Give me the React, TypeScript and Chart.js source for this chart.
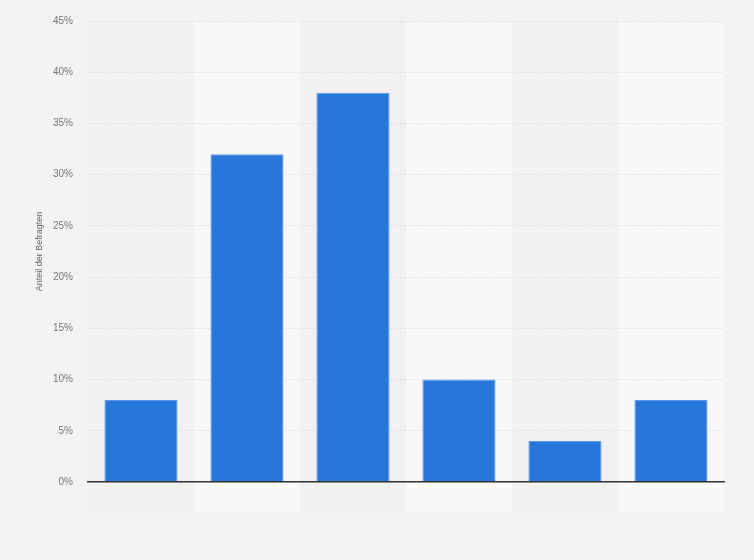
import { useEffect, useRef } from "react"
import { Chart, registerables, type ChartConfiguration, type Plugin } from "chart.js"

Chart.register(...registerables)

// Data (share of respondents, %)
const categories = ["1", "2", "3", "4", "5", "6"]
const shares = [8, 32, 38, 10, 4, 8]
const yTicks = [0, 5, 10, 15, 20, 25, 30, 35, 40, 45]

const FONT = "'Liberation Sans', Arial, sans-serif"

// Alternating column bands behind grid and bars
const bandPlugin: Plugin<"bar"> = {
  id: "bands",
  beforeDraw(chart) {
    const { ctx, chartArea, scales } = chart
    const x = scales.x
    const n = categories.length
    const step = chartArea.width / n
    ctx.save()
    for (let i = 0; i < n; i++) {
      const cx = x.getPixelForValue(i)
      ctx.fillStyle = i % 2 === 0 ? "#f1f1f1" : "#f8f8f8"
      ctx.fillRect(cx - step / 2, chartArea.top, step, chartArea.bottom - chartArea.top + 31)
    }
    ctx.restore()
  },
}

export default function App() {
  const canvasRef = useRef<HTMLCanvasElement>(null)
  const chartRef = useRef<Chart | null>(null)

  useEffect(() => {
    if (!canvasRef.current) return
    if (chartRef.current) chartRef.current.destroy()

    const config: ChartConfiguration<"bar"> = {
      type: "bar",
      data: {
        labels: categories,
        datasets: [
          {
            label: "Anteil der Befragten",
            data: shares,
            backgroundColor: "#2776d9",
            borderColor: "#5c9ae8",
            borderWidth: 1,
            borderSkipped: "bottom",
            barPercentage: 0.69,
            categoryPercentage: 1,
          },
        ],
      },
      options: {
        responsive: true,
        maintainAspectRatio: false,
        animation: false,
        layout: { padding: { top: 20, right: 30, bottom: 78, left: 0 } },
        plugins: {
          legend: { display: false },
          tooltip: { enabled: false },
        },
        scales: {
          x: {
            ticks: { display: false },
            grid: { display: true, color: "rgba(0,0,0,0)", drawTicks: false },
            border: { display: true, color: "#333333", width: 1.5, z: 1 },
          },
          y: {
            min: 0,
            max: 45,
            afterBuildTicks: (scale) => {
              scale.ticks = yTicks.map((v) => ({ value: v }))
            },
            afterFit: (scale) => {
              scale.width = 88
            },
            ticks: {
              padding: 15,
              color: "#777777",
              font: { family: FONT, size: 10 },
              callback: (v) => `${v}%`,
            },
            grid: {
              color: "#d0d0d0",
              drawTicks: false,
              lineWidth: 1,
            },
            border: { display: false, dash: [1, 2] },
            title: {
              display: true,
              text: "Anteil der Befragten",
              color: "#666666",
              font: { family: FONT, size: 9 },
              padding: { top: 34, bottom: 0 },
            },
          },
        },
      },
      plugins: [bandPlugin],
    }

    chartRef.current = new Chart(canvasRef.current, config)

    return () => {
      if (chartRef.current) {
        chartRef.current.destroy()
        chartRef.current = null
      }
    }
  }, [])

  return (
    <div
      style={{
        position: "fixed",
        left: 0,
        top: 0,
        width: "754px",
        height: "560px",
        background: "#f3f3f3",
      }}
    >
      <canvas ref={canvasRef} />
    </div>
  )
}
